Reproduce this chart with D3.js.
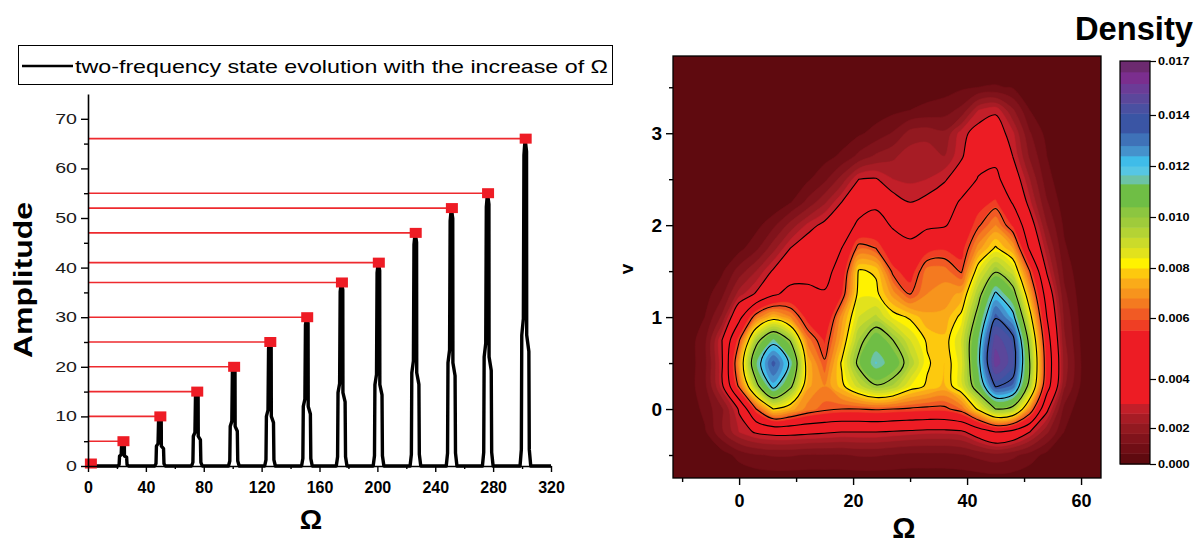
<!DOCTYPE html>
<html>
<head>
<meta charset="utf-8">
<script src="https://cdn.jsdelivr.net/npm/d3@7"></script>
<style>
  body { margin: 0; background: #ffffff; }
  svg { display: block; }
  text { font-family: "Liberation Sans", Arial, Helvetica, sans-serif; }
</style>
</head>
<body>
<svg id="chart" width="1200" height="543"></svg>
<script>
// ================= LEFT PANEL DATA =================
const legendLabel = "two-frequency state evolution with the increase of \u03A9";
const ampTicks = [0, 10, 20, 30, 40, 50, 60, 70];
const ampMinorTicks = [5, 15, 25, 35, 45, 55, 65];
const omegaTicksLeft = [0, 40, 80, 120, 160, 200, 240, 280, 320];
const omegaMinorTicksLeft = [20, 60, 100, 140, 180, 220, 260, 300];

// red square markers (peak tops) and their guide lines
const peakOmega = [2, 24.5, 50, 75.5, 101, 126, 151.5, 175.5, 201, 226.5, 251.5, 276.5, 302.5];
const peakAmp   = [0.5, 5, 10, 15, 20, 25, 30, 37, 41, 47, 52, 55, 66];

// black evolution trace [Omega, Amplitude]
const evolutionCurve = [
  [0,0],
  [20.6,0],[21.5,0.25],[21.8,2],[22.9,2.25],[23.3,4.75],[24.1,5],[25.1,4.8],[25.2,2],[26.7,1.75],[27,0.25],[28,0],
  [46.1,0],[47,0.5],[47.3,4],[48.4,4.5],[48.8,9.5],[49.6,10],[50.6,9.6],[50.7,4],[52.2,3.5],[52.5,0.5],[53.5,0],
  [71.6,0],[72.5,0.75],[72.8,6],[73.9,6.75],[74.3,14.25],[75.1,15],[76.1,14.4],[76.2,6],[77.7,5.25],[78,0.75],[79,0],
  [97.1,0],[98,1],[98.3,8],[99.4,9],[99.8,19],[100.6,20],[101.6,19.2],[101.7,8],[103.2,7],[103.5,1],[104.5,0],
  [122.1,0],[123,1.25],[123.3,10],[124.4,11.25],[124.8,23.75],[125.6,25],[126.6,24],[126.7,10],[128.2,8.75],[128.5,1.25],[129.5,0],
  [147.6,0],[148.5,1.5],[148.8,12],[149.9,13.5],[150.3,28.5],[151.1,30],[152.1,28.8],[152.2,12],[153.7,10.5],[154,1.5],[155,0],
  [171.6,0],[172.5,1.85],[172.8,14.8],[173.9,16.65],[174.3,35.15],[175.1,37],[176.1,35.5],[176.2,14.8],[177.7,12.95],[178,1.85],[179,0],
  [197.1,0],[198,2.05],[198.3,16.4],[199.4,18.45],[199.8,38.95],[200.6,41],[201.6,39.4],[201.7,16.4],[203.2,14.35],[203.5,2.05],[204.5,0],
  [222.6,0],[223.5,2.35],[223.8,18.8],[224.9,21.15],[225.3,44.65],[226.1,47],[227.1,45.1],[227.2,18.8],[228.7,16.45],[229,2.35],[230,0],
  [247.6,0],[248.5,2.6],[248.8,20.8],[249.9,23.4],[250.3,49.4],[251.1,52],[252.1,49.9],[252.2,20.8],[253.7,18.2],[254,2.6],[255,0],
  [272.6,0],[273.5,2.75],[273.8,22],[274.9,24.75],[275.3,52.25],[276.1,55],[277.1,52.8],[277.2,22],[278.7,19.25],[279,2.75],[280,0],
  [298.6,0],[299.5,3.3],[299.8,26.4],[300.9,29.7],[301.3,62.7],[302.1,66],[303.1,63.4],[303.2,26.4],[304.7,23.1],[305,3.3],[306,0],
  [320,0]
];

// ================= RIGHT PANEL DATA =================
const omegaTicksRight = [0, 20, 40, 60];
const omegaMinorTicksRight = [-10, 10, 30, 50];
const vTicks = [0, 1, 2, 3];
const vMinorTicks = [-0.5, 0.5, 1.5, 2.5, 3.5];

// density grid (values in units of 1e-3), rows = v (bottom to top), cols = Omega
const gridOmega = [-12,-9,-6,-3,0,3,6,9,12,15,18,21,24,27,30,33,36,39,42,45,48,51,54,57,60,63];
const gridV = [-0.75,-0.5,-0.25,0,0.25,0.5,0.75,1.0,1.25,1.5,1.75,2.0,2.25,2.5,2.75,3.0,3.25,3.5,3.75];
const densityE3 = [
  [0,0,0,0.05,0.15,0.25,0.3,0.3,0.3,0.3,0.3,0.3,0.3,0.3,0.3,0.3,0.3,0.3,0.35,0.4,0.35,0.2,0.1,0,0,0],
  [0,0,0.05,0.3,0.8,1.1,1.2,1.2,1.1,1.1,1.1,1.2,1.2,1.1,1.0,1.0,1.0,1.1,1.3,1.5,1.3,0.9,0.4,0.1,0,0],
  [0,0.1,0.5,1.6,2.6,3.1,3.3,3.3,3.2,3.1,3.0,3.0,3.0,2.9,2.8,2.7,2.7,2.8,3.6,4.4,4.0,3.0,1.8,0.6,0.1,0],
  [0,0.1,0.8,1.6,3.1,6.0,8.0,7.4,6.6,6.2,6.0,6.0,6.1,6.0,5.9,5.8,5.8,6.4,8.2,10.0,9.6,6.8,3.2,1.0,0.2,0],
  [0.05,0.3,1.0,2.8,6.2,9.6,12.2,10.3,7.3,6.8,7.8,9.0,9.9,9.5,8.4,7.9,7.5,8.6,10.8,13.7,13.2,9.5,5.0,1.8,0.5,0.1],
  [0.1,0.25,1.0,2.9,7.0,11.2,13.5,11.6,7.5,6.1,8.1,10.3,11.7,10.9,9.5,8.1,7.6,8.6,11.5,15.5,14.3,10.0,5.3,2.0,0.6,0.1],
  [0.1,0.25,1.0,3.0,5.9,9.6,11.4,9.9,6.6,5.5,7.4,9.6,10.9,10.0,8.8,7.9,7.7,8.8,11.3,15.0,14.0,9.5,5.0,1.8,0.5,0.1],
  [0.05,0.15,0.6,1.8,4.0,6.5,7.6,6.8,5.3,4.6,7.0,8.8,9.3,8.3,7.9,7.3,7.3,8.2,10.5,13.5,12.2,8.4,4.4,1.6,0.4,0.05],
  [0,0.1,0.35,1.0,2.4,3.1,4.2,4.8,4.7,4.5,5.5,8.3,8.2,7.0,6.0,6.8,7.0,7.3,9.6,12.0,10.6,7.2,3.8,1.3,0.3,0],
  [0,0,0.15,0.5,1.4,2.2,3.1,3.8,4.0,4.0,4.9,8.1,7.9,5.8,5.2,6.6,6.6,5.9,8.5,9.9,8.9,6.0,2.9,1.0,0.2,0],
  [0,0,0,0.1,0.4,1.0,2.0,3.0,3.5,3.8,4.4,6.3,6.0,4.9,4.6,5.3,5.5,5.3,7.0,8.1,7.2,4.2,2.3,0.7,0.1,0],
  [0,0,0,0,0.1,0.4,1.0,1.9,2.7,3.2,3.8,4.6,4.8,4.3,4.1,4.2,4.3,4.9,5.9,6.8,5.5,3.5,1.7,0.5,0.1,0],
  [0,0,0,0,0,0,0.1,0.55,1.3,2.1,3.0,3.9,4.2,3.3,3.0,3.2,3.6,4.6,5.3,5.7,4.3,2.7,1.2,0.3,0,0],
  [0,0,0,0,0,0,0,0.2,0.5,1.0,1.9,3.0,3.05,2.6,2.5,2.6,2.9,3.5,4.5,4.7,3.6,2.2,0.8,0.2,0,0],
  [0,0,0,0,0,0,0,0,0.2,0.4,0.7,1.3,1.8,2.1,2.45,2.5,2.2,2.9,3.8,4.1,3.0,1.6,0.6,0.2,0,0],
  [0,0,0,0,0,0,0,0,0,0.1,0.3,0.5,0.8,1.2,1.9,2.0,1.8,2.8,3.3,3.4,2.7,1.2,0.4,0.1,0,0],
  [0,0,0,0,0,0,0,0,0,0,0,0.1,0.3,0.45,0.6,0.75,0.9,1.3,2.6,2.9,1.8,0.6,0.2,0,0,0],
  [0,0,0,0,0,0,0,0,0,0,0,0,0,0.1,0.2,0.3,0.35,0.5,0.6,0.65,0.55,0.35,0.1,0,0,0],
  [0,0,0,0,0,0,0,0,0,0,0,0,0,0,0,0,0,0.1,0.15,0.2,0.15,0.05,0,0,0,0]
];

// colour levels (lower bound, units 1e-3) and colours
const bandLevels = [0,0.6,1.15,1.7,2.2,2.6,3.0,5.6,5.95,6.4,6.8,7.2,7.6,8.0,8.4,8.8,9.2,9.6,10.0,10.4,11.3,11.65,12.0,12.4,12.8,13.3,14.1,14.65,15.2,15.75,16.4];
const bandColors = ["#5f0a0f","#700e15","#80131b","#921920","#a71c25","#c21f29","#ed1c24","#ef3e24","#f15a24","#f47a20","#f7941d","#faab19","#fdc90e","#fff200","#e2e21c","#cbdb2a","#b4d334","#9fcb3b","#8cc640","#6fbe45","#6cc3a6","#56c6e4","#3fbce9","#4592cc","#3f72b8","#3a55a4","#4a50a1","#5b479b","#6b3c97","#7b2e8e","#6c2a6f"];
const densityMaxE3 = 17.0;
const contourLineLevels = [3.0, 4.4, 6.0, 8.0, 10.0, 11.8, 13.6];
const colorbarTicks = [0, 2, 4, 6, 8, 10, 12, 14, 17];

// ================= DRAWING =================
const svg = d3.select("#chart");

function stretch(sel, k) {
  sel.each(function () {
    const len = this.getComputedTextLength();
    d3.select(this).attr("textLength", len * k).attr("lengthAdjust", "spacingAndGlyphs");
  });
}

// ---------- LEFT PANEL ----------
const xL = d3.scaleLinear().domain([0, 320]).range([88, 551]);
const yL = d3.scaleLinear().domain([0, 75]).range([466, 94]);

// legend
const leg = svg.append("g");
leg.append("rect").attr("x", 18.5).attr("y", 45.5).attr("width", 594).attr("height", 39)
  .attr("fill", "#fff").attr("stroke", "#000").attr("stroke-width", 1);
leg.append("line").attr("x1", 22).attr("x2", 73).attr("y1", 66).attr("y2", 66)
  .attr("stroke", "#000").attr("stroke-width", 2.5);
leg.append("text").attr("x", 75).attr("y", 73).attr("font-size", 19).attr("fill", "#000")
  .attr("textLength", 533).attr("lengthAdjust", "spacingAndGlyphs").text(legendLabel);

// red guide lines
svg.append("g").selectAll("line").data(d3.range(1, peakOmega.length)).join("line")
  .attr("x1", xL(0)).attr("x2", i => xL(peakOmega[i]))
  .attr("y1", i => yL(peakAmp[i])).attr("y2", i => yL(peakAmp[i]))
  .attr("stroke", "#ee2a2e").attr("stroke-width", 1.6);

// black trace
svg.append("path").datum(evolutionCurve)
  .attr("d", d3.line().x(d => xL(d[0])).y(d => yL(d[1])))
  .attr("fill", "none").attr("stroke", "#000").attr("stroke-width", 3.4)
  .attr("stroke-linejoin", "round");

// red squares
svg.append("g").selectAll("rect").data(d3.range(peakOmega.length)).join("rect")
  .attr("x", i => xL(peakOmega[i]) - 6).attr("y", i => yL(peakAmp[i]) - 5)
  .attr("width", 12).attr("height", 10).attr("fill", "#ee1c25");

// axes
const yAxL = svg.append("g").attr("transform", `translate(${xL(0)},0)`)
  .call(d3.axisLeft(yL).tickValues(ampTicks).tickSize(7).tickSizeOuter(0).tickPadding(4));
svg.append("g").attr("transform", `translate(${xL(0)},0)`)
  .call(d3.axisLeft(yL).tickValues(ampMinorTicks).tickSize(4).tickFormat(""))
  .call(g => g.select(".domain").remove());
yAxL.selectAll("text").attr("font-size", 14).attr("fill", "#1a1a1a").attr("font-family", null);
yAxL.selectAll("text").call(stretch, 1.4);

const xAxL = svg.append("g").attr("transform", `translate(0,${yL(0)})`)
  .call(d3.axisBottom(xL).tickValues(omegaTicksLeft).tickSize(6).tickSizeOuter(0).tickPadding(10));
svg.append("g").attr("transform", `translate(0,${yL(0)})`)
  .call(d3.axisBottom(xL).tickValues(omegaMinorTicksLeft).tickSize(3).tickFormat(""))
  .call(g => g.select(".domain").remove());
xAxL.selectAll("text").attr("font-size", 16).attr("font-weight", "bold").attr("fill", "#000").attr("font-family", null);

svg.selectAll(".domain").attr("stroke-width", 1.6);
svg.selectAll(".tick line").attr("stroke-width", 1.4);

svg.append("text").attr("transform", "translate(32,280) rotate(-90)").attr("text-anchor", "middle")
  .attr("font-size", 26).attr("font-weight", "bold").attr("textLength", 156)
  .attr("lengthAdjust", "spacingAndGlyphs").text("Amplitude");
svg.append("text").attr("x", 311).attr("y", 529).attr("text-anchor", "middle")
  .attr("font-size", 28).attr("font-weight", "bold").text("\u03A9");

// ---------- RIGHT PANEL ----------
const plot = { left: 673, top: 56, right: 1101, bottom: 478 };
const xR = d3.scaleLinear().domain([-11.6, 63.5]).range([plot.left, plot.right]);
const yR = d3.scaleLinear().domain([-0.75, 3.84]).range([plot.bottom, plot.top]);

svg.append("defs").append("clipPath").attr("id", "plotClip")
  .append("rect").attr("x", plot.left).attr("y", plot.top)
  .attr("width", plot.right - plot.left).attr("height", plot.bottom - plot.top);

const nx = gridOmega.length, ny = gridV.length;
const values = densityE3.flat();
const gx = d3.scaleLinear().domain([0.5, nx - 0.5]).range([gridOmega[0], gridOmega[nx - 1]]);
const gy = d3.scaleLinear().domain([0.5, ny - 0.5]).range([gridV[0], gridV[ny - 1]]);
const ringLine = d3.line().x(p => xR(gx(p[0]))).y(p => yR(gy(p[1])))
  .curve(d3.curveCatmullRomClosed.alpha(0.5));
const geomPath = g => g.coordinates.map(poly => poly.map(ring => ringLine(ring.slice(0, -1))).join("")).join("");

const plotG = svg.append("g").attr("clip-path", "url(#plotClip)");
plotG.append("rect").attr("x", plot.left).attr("y", plot.top)
  .attr("width", plot.right - plot.left).attr("height", plot.bottom - plot.top)
  .attr("fill", bandColors[0]);

const bands = d3.contours().size([nx, ny]).thresholds(bandLevels)(values);
plotG.append("g").selectAll("path").data(bands).join("path")
  .attr("d", geomPath).attr("fill", (d, i) => bandColors[i])
  .attr("fill-rule", "evenodd").attr("stroke", (d, i) => bandColors[i]).attr("stroke-width", 0.6);

const lines = d3.contours().size([nx, ny]).thresholds(contourLineLevels)(values);
plotG.append("g").selectAll("path").data(lines).join("path")
  .attr("d", geomPath).attr("fill", "none").attr("stroke", "#000").attr("stroke-width", 1.1);

svg.append("rect").attr("x", plot.left).attr("y", plot.top)
  .attr("width", plot.right - plot.left).attr("height", plot.bottom - plot.top)
  .attr("fill", "none").attr("stroke", "#000").attr("stroke-width", 1.3);

const xAxR = svg.append("g").attr("transform", `translate(0,${plot.bottom})`)
  .call(d3.axisBottom(xR).tickValues(omegaTicksRight).tickSize(7).tickPadding(9).tickFormat(d3.format("d")))
  .call(g => g.select(".domain").remove());
svg.append("g").attr("transform", `translate(0,${plot.bottom})`)
  .call(d3.axisBottom(xR).tickValues(omegaMinorTicksRight).tickSize(4).tickFormat(""))
  .call(g => g.select(".domain").remove());
xAxR.selectAll("text").attr("font-size", 18).attr("font-weight", "bold").attr("fill", "#000").attr("font-family", null);

const yAxR = svg.append("g").attr("transform", `translate(${plot.left},0)`)
  .call(d3.axisLeft(yR).tickValues(vTicks).tickSize(7).tickPadding(4).tickFormat(d3.format("d")))
  .call(g => g.select(".domain").remove());
svg.append("g").attr("transform", `translate(${plot.left},0)`)
  .call(d3.axisLeft(yR).tickValues(vMinorTicks).tickSize(4).tickFormat(""))
  .call(g => g.select(".domain").remove());
yAxR.selectAll("text").attr("font-size", 19).attr("font-weight", "bold").attr("fill", "#000").attr("font-family", null);

svg.selectAll(".tick line").attr("stroke-width", 1.4);

svg.append("text").attr("transform", "translate(633,269) rotate(-90)").attr("text-anchor", "middle")
  .attr("font-size", 19).attr("font-weight", "bold").text("v");
svg.append("text").attr("x", 904).attr("y", 538).attr("text-anchor", "middle")
  .attr("font-size", 29).attr("font-weight", "bold").text("\u03A9");

// ---------- COLOR BAR ----------
const cb = { left: 1120, right: 1150 };
const cbScale = d3.scaleLinear().domain(colorbarTicks).range([464, 428, 379, 318, 268, 217, 166, 115, 61]);
svg.append("g").selectAll("rect").data(bandLevels).join("rect")
  .attr("x", cb.left).attr("width", cb.right - cb.left)
  .attr("y", (d, i) => cbScale(i + 1 < bandLevels.length ? bandLevels[i + 1] : densityMaxE3))
  .attr("height", (d, i) => cbScale(d) - cbScale(i + 1 < bandLevels.length ? bandLevels[i + 1] : densityMaxE3) + 0.5)
  .attr("fill", (d, i) => bandColors[i]);
svg.append("rect").attr("x", cb.left).attr("y", cbScale(densityMaxE3))
  .attr("width", cb.right - cb.left).attr("height", cbScale(0) - cbScale(densityMaxE3))
  .attr("fill", "none").attr("stroke", "#000").attr("stroke-width", 1.2);
const cbAx = svg.append("g").attr("transform", `translate(${cb.right},0)`)
  .call(d3.axisRight(cbScale).tickValues(colorbarTicks).tickSize(6).tickPadding(2)
    .tickFormat(d => (d / 1000).toFixed(3)))
  .call(g => g.select(".domain").remove());
cbAx.selectAll("text").attr("font-size", 11).attr("font-weight", "bold").attr("fill", "#000").attr("font-family", null);
cbAx.selectAll("text").call(stretch, 1.15);
cbAx.selectAll(".tick line").attr("stroke-width", 1.2);

svg.append("text").attr("x", 1075).attr("y", 40).attr("font-size", 33).attr("font-weight", "bold")
  .attr("textLength", 118).attr("lengthAdjust", "spacingAndGlyphs").text("Density");
</script>
</body>
</html>
